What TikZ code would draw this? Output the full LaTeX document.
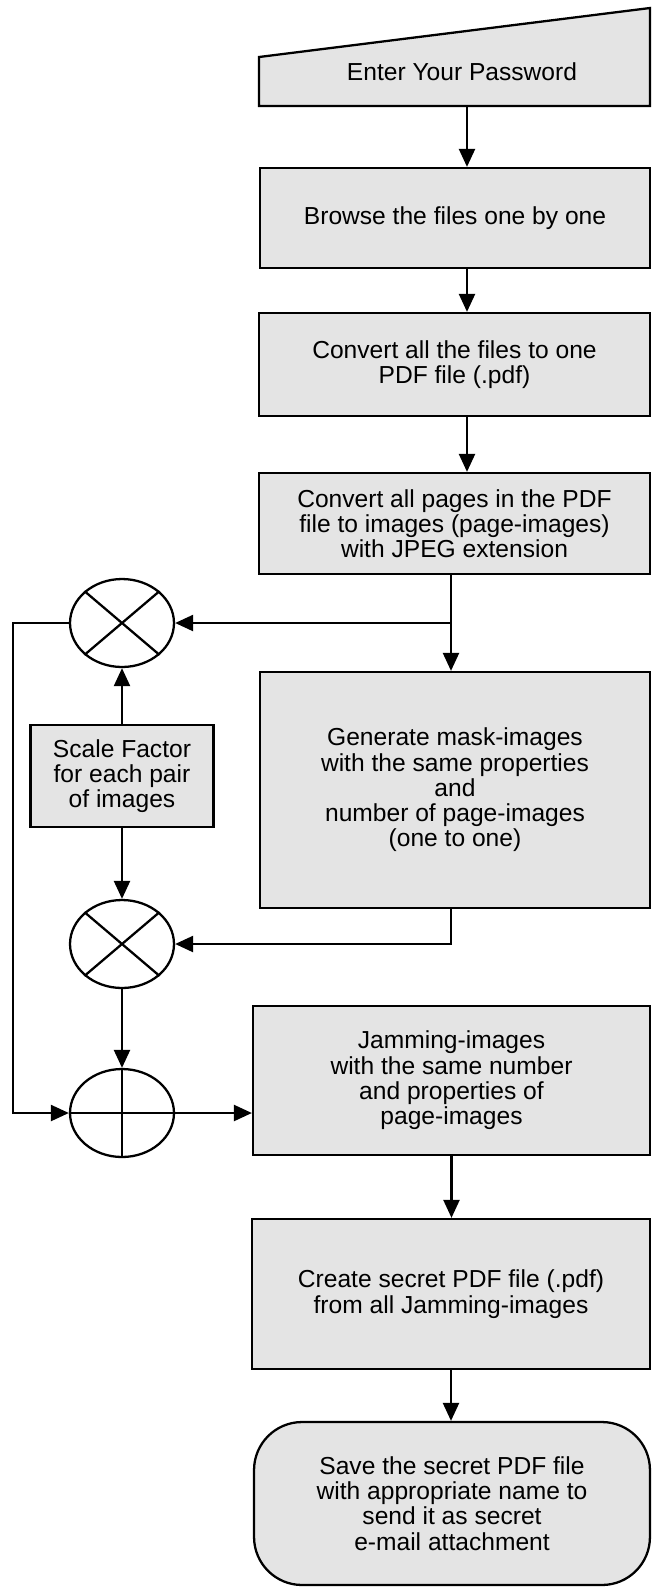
\documentclass[tikz,border=0pt]{standalone}
\usepackage{fontspec}
\setmainfont{Liberation Sans}
\usetikzlibrary{arrows.meta,shapes.geometric}
\definecolor{boxgray}{RGB}{228,228,228}
\tikzset{
  proc/.style={draw, fill=boxgray, align=center, inner sep=2pt},
  junc/.style={draw, ellipse, fill=white, minimum width=2.08cm, minimum height=1.76cm, inner sep=0pt},
  >={Triangle[length=0.36cm,width=0.32cm]},
}
\begin{document}
\begin{tikzpicture}[x=0.02cm, y=-0.02cm, line width=1.3pt, font=\fontsize{14}{14.4}\selectfont]
    \useasboundingbox (0,0) rectangle (652,1587);
    \filldraw[fill=boxgray] (259,106) -- (259,57) -- (650,8) -- (650,106) -- cycle;
    \node (pwd) at (462,72) {Enter Your Password};
    \coordinate (pwdout) at (467,106);
    \node[proc, minimum width=7.8cm, minimum height=2cm] (browse) at (455,218)
    {Browse the files one by one};
    \node[proc, minimum width=7.82cm, minimum height=2.06cm] (onepdf) at (454.5,364.5)
    {Convert all the files to one\\PDF file (.pdf)};
    \node[proc, minimum width=7.82cm, minimum height=2.02cm] (pages) at (454.5,523.5)
    {Convert all pages in the PDF\\file to images (page-images)\\with JPEG extension};
    \node[proc, minimum width=7.8cm, minimum height=4.72cm] (mask) at (455,790)
    {Generate mask-images\\with the same properties\\and\\number of page-images\\(one to one)};
    \node[proc, minimum width=7.94cm, minimum height=2.98cm] (jam) at (451.5,1080.5)
    {Jamming-images\\with the same number\\and properties of\\page-images};
    \node[proc, minimum width=7.96cm, minimum height=3cm] (secret) at (451,1294)
    {Create secret PDF file (.pdf)\\from all Jamming-images};
    \node[proc, rounded corners=0.96cm, minimum width=7.92cm, minimum height=3.26cm] (save) at (452,1503.5)
    {Save the secret PDF file\\with appropriate name to\\send it as secret\\e-mail attachment};
    \node[proc, minimum width=3.66cm, minimum height=2.04cm] (scale) at (122,776)
    {Scale Factor\\for each pair\\of images};
    \node[junc] (m1) at (122,623) {};
    \node[junc] (m2) at (122,944) {};
    \node[junc] (add) at (122,1113) {};
    \draw (m1.north west) -- (m1.south east) (m1.north east) -- (m1.south west);
    \draw (m2.north west) -- (m2.south east) (m2.north east) -- (m2.south west);
    \draw (add.north) -- (add.south) (add.west) -- (add.east);
    \coordinate (split) at (451,623);
    \draw[->] (pwdout) -- (pwdout |- browse.north);
    \draw[->] (browse.south -| pwdout) -- (onepdf.north -| pwdout);
    \draw[->] (onepdf.south -| pwdout) -- (pages.north -| pwdout);
    \draw[->] (pages.south -| split) -- (mask.north -| split);
    \draw[->] (split) -- (m1.east);
    \draw[->] (m1.west) -- ++(-56,0) |- (add.west);
    \draw[->] (scale.north) -- (m1.south);
    \draw[->] (scale.south) -- (m2.north);
    \draw[->] (mask.south -| split) |- (m2.east);
    \draw[->] (m2.south) -- (add.north);
    \draw[->] (add.east) -- (add.east -| jam.west);
    \draw[->] (jam.south) -- (jam.south |- secret.north);
    \draw[->] (secret.south) -- (secret.south |- save.north);
\end{tikzpicture}
\end{document}
